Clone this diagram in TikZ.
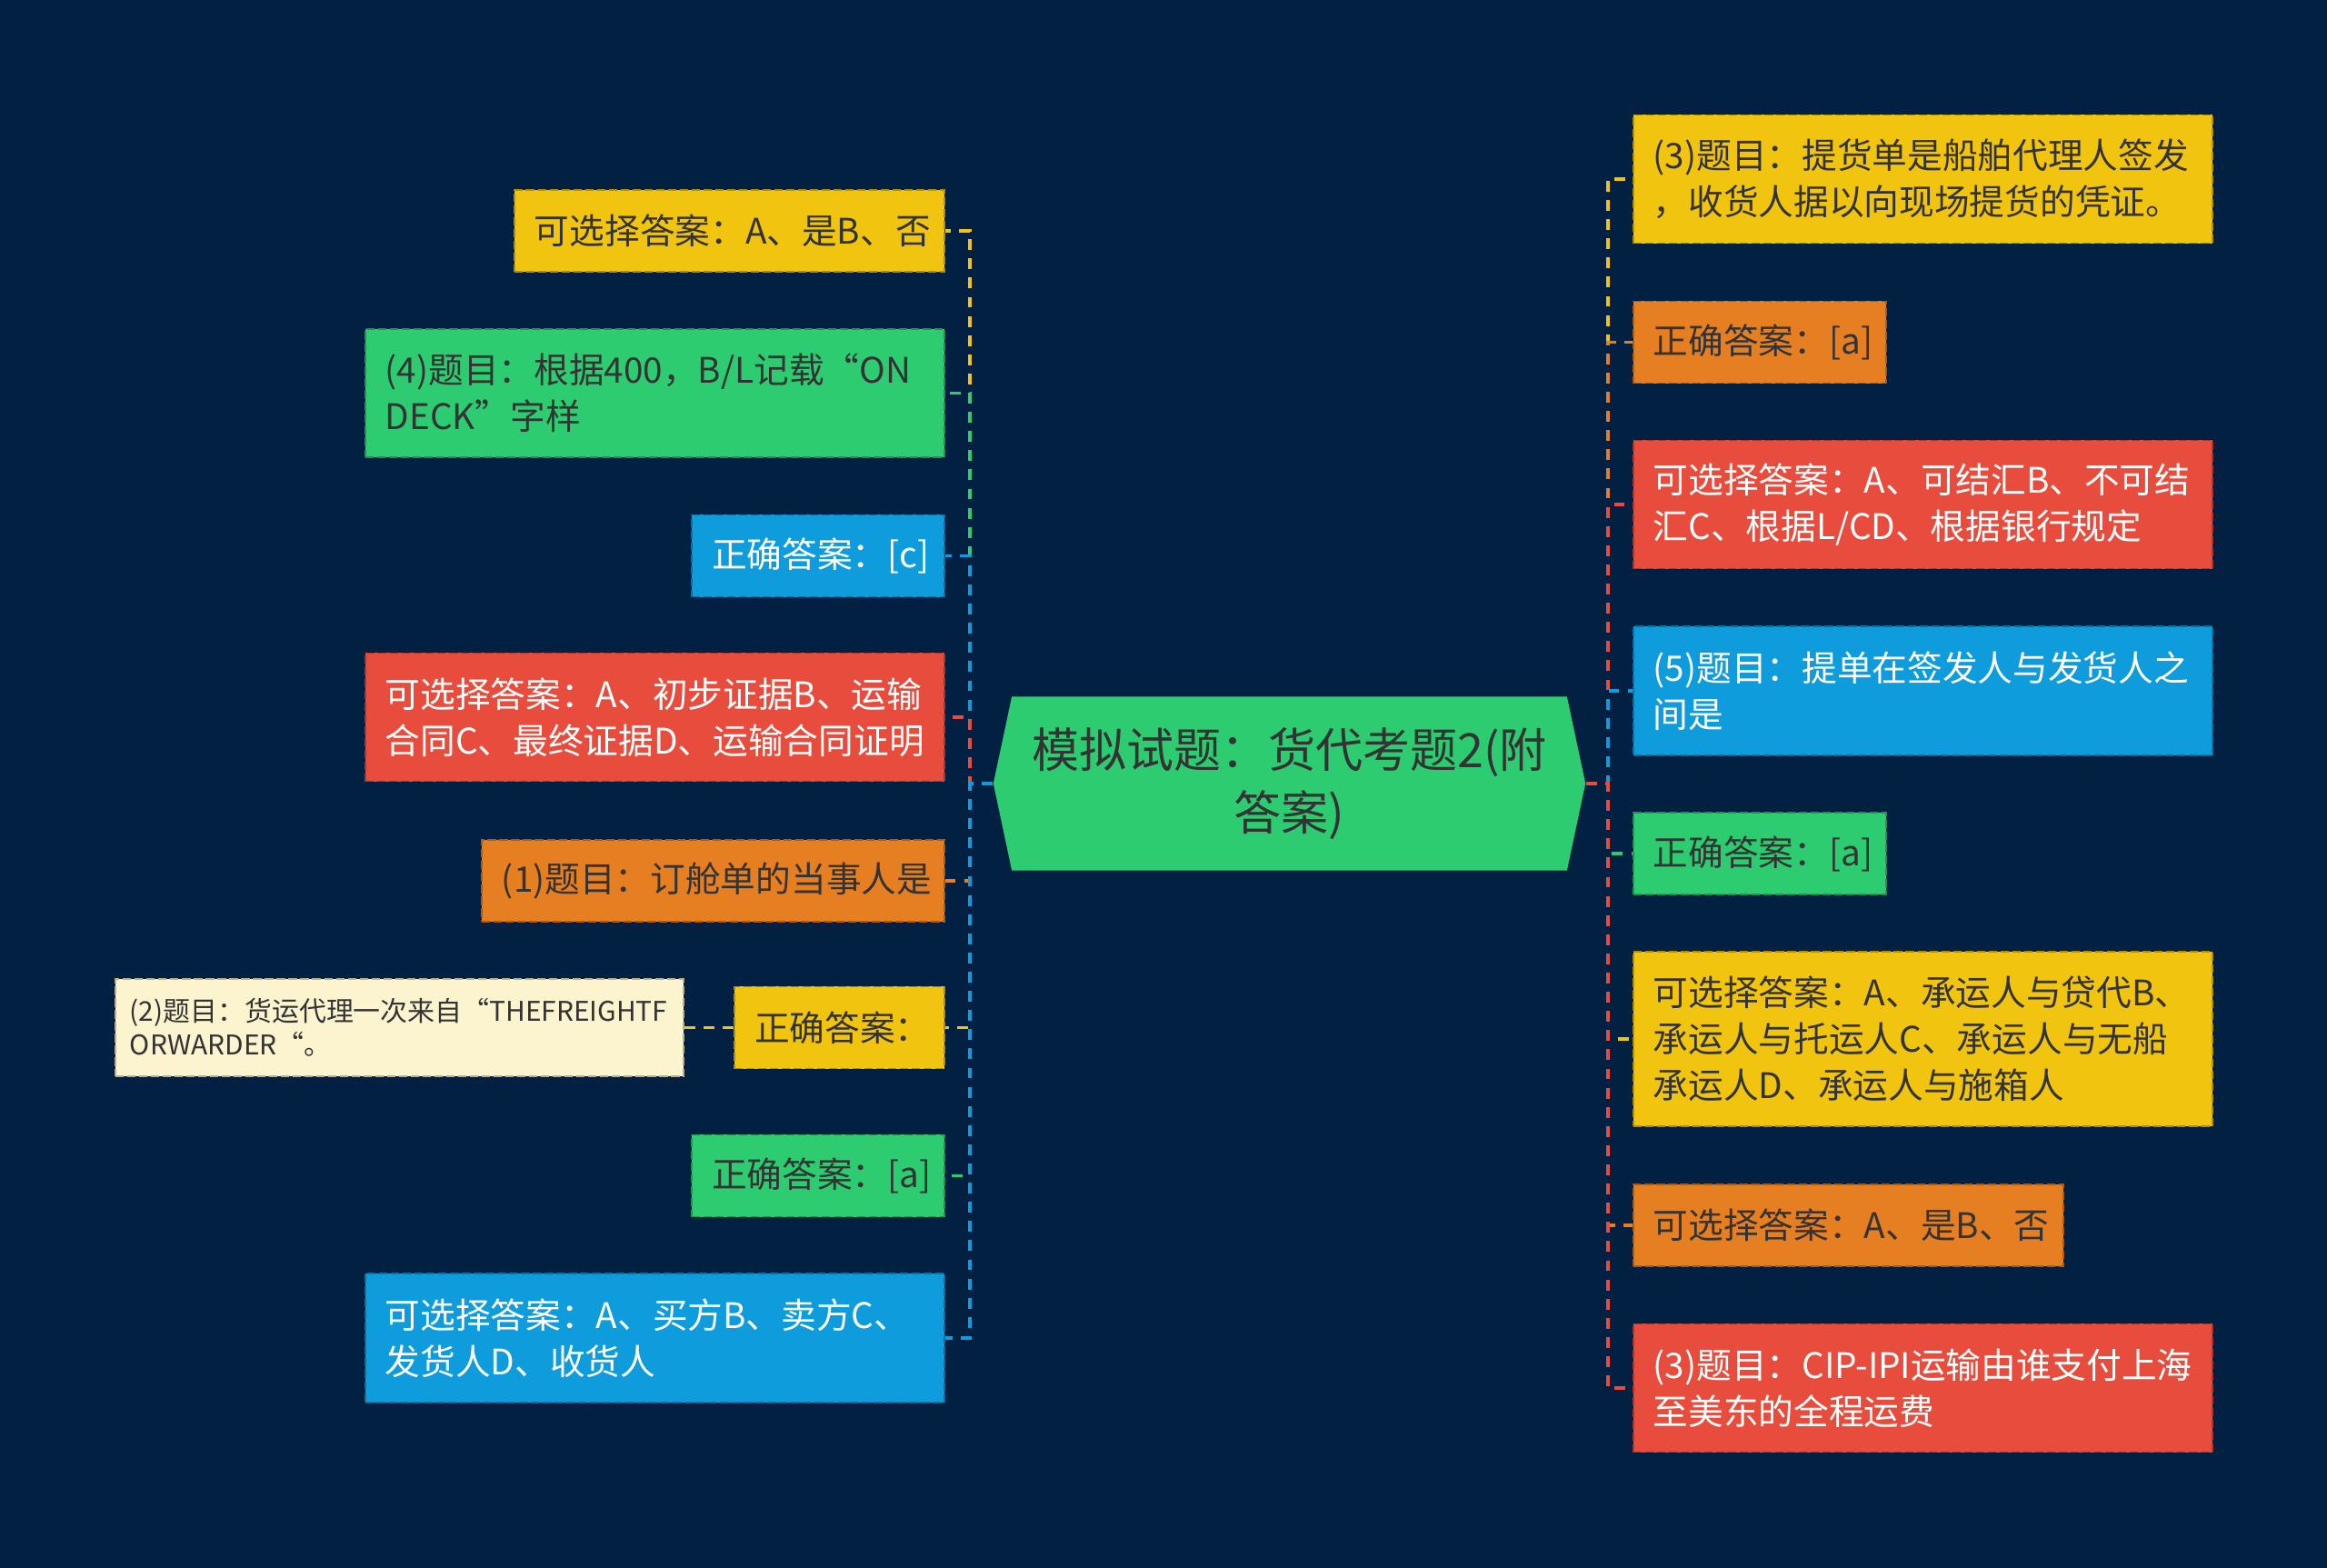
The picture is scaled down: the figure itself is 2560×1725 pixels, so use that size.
\documentclass[tikz,border=0pt]{standalone}
\usepackage{fontspec}
\setmainfont{Noto Sans CJK SC}
\usepackage{xcolor}
\usepackage{tikz}
\usetikzlibrary{positioning,shapes.symbols}

\definecolor{bgnavy}{HTML}{022142}
\definecolor{cyellow}{HTML}{F1C40F}
\definecolor{cgreen}{HTML}{2ECC71}
\definecolor{cblue}{HTML}{0E9CDC}
\definecolor{cred}{HTML}{E74C3C}
\definecolor{corange}{HTML}{E67E22}
\definecolor{ccream}{HTML}{FCF3CF}
\definecolor{txtdark}{HTML}{333333}

\begin{document}
\begin{tikzpicture}[
  x=0.01cm, y=-0.01cm,
  every node/.style={font=\fontsize{11pt}{14.5pt}\selectfont, text=txtdark},
  leaf/.style={rectangle, fill=#1, draw=#1!72!black, line width=0.45pt,
    dash pattern=on 2.6pt off 1.1pt, inner xsep=0.22cm, inner ysep=0pt,
    align=left},
  lnode/.style={leaf=#1, anchor=east},
  rnode/.style={leaf=#1, anchor=west},
  light/.style={text=white},
  rootbox/.style={signal, signal to=west and east, signal pointer angle=156,
    fill=cgreen, minimum width=6.51cm, minimum height=1.91cm, inner sep=0pt,
    align=center, font=\fontsize{14.8pt}{19.6pt}\selectfont},
  conn/.style={line width=1pt, dash pattern=on 3.4pt off 2.6pt},
]

\fill[bgnavy] (0,0) rectangle (2560,1725);

%% ── root ────────────────────────────────────────────────────────────────
\node[rootbox] (root) at (1418.5,862) {模拟试题：货代考题2(附\\答案)};
\coordinate (lspine) at (1067,862);
\coordinate (rspine) at (1769,862);

%% ── left branch ─────────────────────────────────────────────────────────
\node[lnode=cyellow, text width=4.29cm, minimum height=0.9cm] (lA) at (1040,254)
  {可选择答案：A、是B、否};
\node[lnode=cgreen, text width=5.93cm, minimum height=1.41cm] (lB) at (1040,432.5)
  {(4)题目：根据400，B/L记载“ON\\DECK”字样};
\node[lnode=cblue, light, text width=2.34cm, minimum height=0.9cm] (lC) at (1040,611.5)
  {正确答案：[c]};
\node[lnode=cred, light, text width=5.93cm, minimum height=1.41cm] (lD) at (1040,789)
  {可选择答案：A、初步证据B、运输\\合同C、最终证据D、运输合同证明};
\node[lnode=corange, text width=4.65cm, minimum height=0.9cm] (lE) at (1040,969)
  {(1)题目：订舱单的当事人是};
\node[lnode=cyellow, text width=1.87cm, minimum height=0.9cm] (lF) at (1040,1130.5)
  {正确答案：};
\node[lnode=ccream, inner xsep=0.16cm, text width=5.93cm, minimum height=1.07cm,
  font=\fontsize{8.5pt}{10.5pt}\selectfont] (lFq) at (753,1130.5)
  {(2)题目：货运代理一次来自“THEFREIGHTF\\ORWARDER“。};
\node[lnode=cgreen, text width=2.34cm, minimum height=0.9cm] (lG) at (1040,1293.5)
  {正确答案：[a]};
\node[lnode=cblue, light, text width=5.93cm, minimum height=1.42cm] (lH) at (1040,1472)
  {可选择答案：A、买方B、卖方C、\\发货人D、收货人};

%% ── right branch ────────────────────────────────────────────────────────
\node[rnode=cyellow, text width=5.93cm, minimum height=1.41cm] (rA) at (1796,197)
  {(3)题目：提货单是船舶代理人签发\\，收货人据以向现场提货的凭证。};
\node[rnode=corange, text width=2.34cm, minimum height=0.9cm] (rB) at (1796,376.5)
  {正确答案：[a]};
\node[rnode=cred, light, text width=5.93cm, minimum height=1.41cm] (rC) at (1796,555)
  {可选择答案：A、可结汇B、不可结\\汇C、根据L/CD、根据银行规定};
\node[rnode=cblue, light, text width=5.93cm, minimum height=1.42cm] (rD) at (1796,760)
  {(5)题目：提单在签发人与发货人之\\间是};
\node[rnode=cgreen, text width=2.34cm, minimum height=0.9cm] (rE) at (1796,939)
  {正确答案：[a]};
\node[rnode=cyellow, text width=5.93cm, minimum height=1.92cm] (rF) at (1796,1143)
  {可选择答案：A、承运人与贷代B、\\承运人与托运人C、承运人与无船\\承运人D、承运人与施箱人};
\node[rnode=corange, text width=4.29cm, minimum height=0.9cm] (rG) at (1796,1348)
  {可选择答案：A、是B、否};
\node[rnode=cred, light, text width=5.93cm, minimum height=1.41cm] (rH) at (1796,1527)
  {(3)题目：CIP-IPI运输由谁支付上海\\至美东的全程运费};

%% ── connectors ──────────────────────────────────────────────────────────
\foreach \n/\c in {lA/cyellow,lB/cgreen,lC/cblue,lD/cred,lE/corange,lF/cyellow,lG/cgreen,lH/cblue} {
  \draw[conn, color=\c] (root.west) -- (lspine) |- (\n.east);
}
\foreach \n/\c in {rA/cyellow,rB/corange,rC/cred,rD/cblue,rE/cgreen,rF/cyellow,rG/corange,rH/cred} {
  \draw[conn, color=\c] (root.east) -- (rspine) |- (\n.west);
}
\draw[conn, cyellow] (lF.west) -- (lFq.east);

\end{tikzpicture}
\end{document}
